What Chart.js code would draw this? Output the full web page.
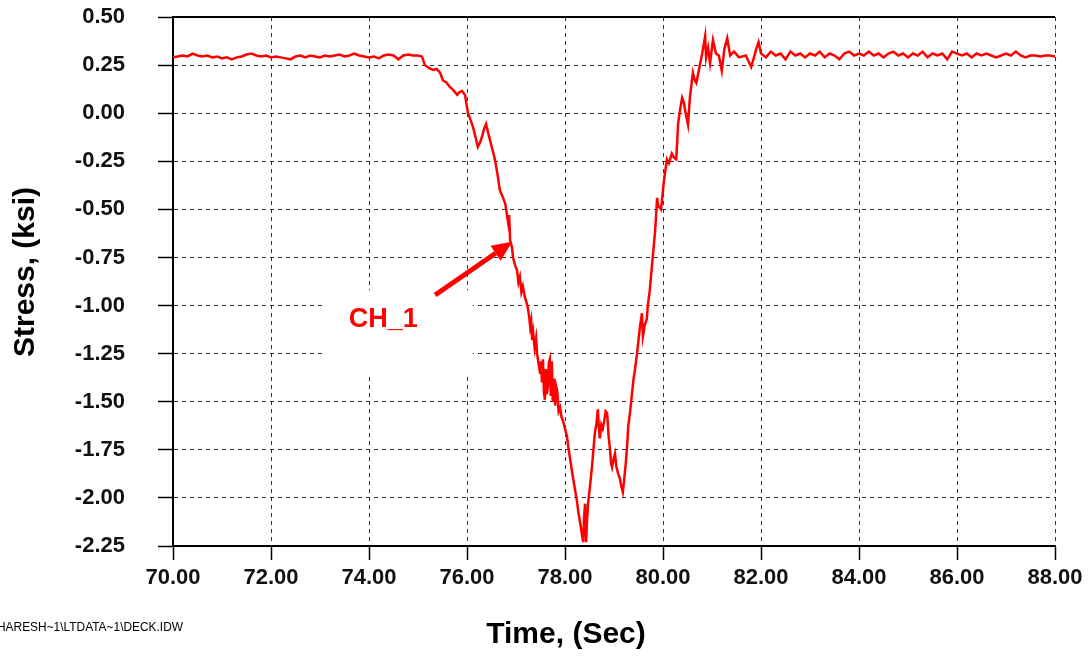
<!DOCTYPE html>
<html>
<head>
<meta charset="utf-8">
<script src="https://cdn.jsdelivr.net/npm/chart.js@4.4.0/dist/chart.umd.min.js"></script>
<style>
html, body { margin:0; padding:0; background:#fff; }
canvas { display:block; }
</style>
</head>
<body>
<canvas id="stressChart" width="1090" height="657"></canvas>
<script>
var seriesLabel = 'CH_1';
var xTitle = 'Time, (Sec)';
var yTitle = 'Stress, (ksi)';
var filePath = 'HARESH~1\\LTDATA~1\\DECK.IDW';

var timeMin = 70, timeMax = 88, timeStep = 2;
var stressMin = -2.25, stressMax = 0.5, stressStep = 0.25;

// [time (sec), stress (ksi)]
var preLoad = [
    [70.0,0.290],[70.1,0.295],[70.2,0.300],[70.3,0.295],[70.4,0.310],[70.5,0.300],[70.6,0.295],[70.7,0.300],
    [70.8,0.290],[70.9,0.295],[71.0,0.285],[71.1,0.290],[71.2,0.280],[71.3,0.290],[71.4,0.295],[71.5,0.305],
    [71.6,0.310],[71.7,0.300],[71.8,0.295],[71.9,0.300],[72.0,0.290],[72.1,0.295],[72.2,0.290],[72.3,0.285],
    [72.4,0.280],[72.5,0.295],[72.6,0.300],[72.7,0.290],[72.8,0.300],[72.9,0.295],[73.0,0.290],[73.1,0.300],
    [73.2,0.295],[73.3,0.300],[73.4,0.305],[73.5,0.295],[73.6,0.300],[73.7,0.310],[73.8,0.300],[73.9,0.295],
    [74.0,0.290],[74.1,0.295],[74.2,0.285],[74.3,0.300],[74.4,0.305],[74.5,0.300],[74.6,0.280],[74.7,0.300],
    [74.8,0.305],[74.9,0.300],[75.0,0.300],[75.08,0.295]
];

var loading = [
    [75.14,0.25],[75.22,0.235],[75.31,0.225],[75.38,0.23],[75.45,0.21],[75.51,0.17],[75.58,0.16],[75.65,0.136],
    [75.72,0.12],[75.80,0.095],[75.85,0.11],[75.90,0.115],[75.96,0.095],[76.02,0.0],[76.08,-0.04],[76.12,-0.07],
    [76.17,-0.12],[76.22,-0.175],[76.27,-0.15],[76.31,-0.12],[76.35,-0.08],[76.39,-0.056],[76.43,-0.10],[76.47,-0.14],
    [76.52,-0.19],[76.57,-0.24],[76.63,-0.33],[76.67,-0.40],[76.72,-0.43],[76.78,-0.47],[76.84,-0.57],[76.86,-0.53],
    [76.88,-0.66],[76.92,-0.70],[76.94,-0.75],[76.98,-0.79],[77.02,-0.815],[77.05,-0.88],[77.08,-0.85],[77.11,-0.93],
    [77.14,-0.90],[77.18,-0.955],[77.21,-0.98],[77.24,-1.01],[77.27,-1.06],[77.29,-1.11],[77.31,-1.08],[77.33,-1.18],
    [77.35,-1.14],[77.38,-1.22],[77.41,-1.17],[77.43,-1.25],[77.46,-1.30],[77.49,-1.35],[77.51,-1.29],[77.53,-1.40],
    [77.55,-1.28],[77.57,-1.45],[77.59,-1.49],[77.61,-1.33],[77.63,-1.46],[77.65,-1.42],[77.67,-1.30],[77.69,-1.28],
    [77.71,-1.47],[77.73,-1.29],[77.75,-1.50],[77.78,-1.38],[77.80,-1.52],[77.82,-1.42],[77.84,-1.44],[77.87,-1.55],
    [77.90,-1.53],[77.93,-1.58],[77.96,-1.60],[78.00,-1.64],[78.04,-1.68],[78.07,-1.74],[78.10,-1.79],[78.13,-1.84],
    [78.16,-1.89],[78.20,-1.95],[78.24,-2.01],[78.27,-2.07],[78.31,-2.13],[78.34,-2.18],[78.37,-2.23],[78.39,-2.10],
    [78.41,-2.03],[78.43,-2.23],[78.45,-2.12],[78.47,-2.03]
];

var unloading = [
    [78.51,-1.94],[78.55,-1.84],[78.58,-1.75],[78.61,-1.66],[78.64,-1.62],[78.67,-1.54],[78.69,-1.63],[78.71,-1.69],
    [78.74,-1.62],[78.77,-1.64],[78.80,-1.60],[78.83,-1.55],[78.86,-1.56],[78.89,-1.68],[78.92,-1.75],[78.94,-1.82],
    [78.96,-1.84],[78.99,-1.80],[79.02,-1.77],[79.05,-1.84],[79.08,-1.87],[79.12,-1.90],[79.15,-1.94],[79.18,-1.97],
    [79.21,-1.90],[79.24,-1.82],[79.27,-1.72],[79.29,-1.63],[79.33,-1.55],[79.37,-1.45],[79.40,-1.38],[79.43,-1.33],
    [79.47,-1.25],[79.50,-1.18],[79.53,-1.11],[79.57,-1.04],[79.59,-1.16],[79.63,-1.10],[79.67,-1.07],[79.69,-1.00],
    [79.73,-0.92],[79.79,-0.75],[79.84,-0.61],[79.88,-0.44],[79.90,-0.48],[79.96,-0.50],[80.02,-0.35],[80.08,-0.24],
    [80.12,-0.26],[80.18,-0.21],[80.22,-0.23],[80.27,-0.24],[80.31,-0.05],[80.35,0.02],[80.39,0.08],[80.43,0.05],
    [80.45,0.016],[80.51,-0.06],[80.55,0.085],[80.61,0.21],[80.65,0.17],[80.68,0.157],[80.76,0.26],[80.80,0.31],
    [80.86,0.40],[80.88,0.29],[80.92,0.34],[80.96,0.26],[81.02,0.38],[81.08,0.31],[81.14,0.30],[81.20,0.22],
    [81.25,0.33],[81.31,0.39],[81.37,0.30],[81.45,0.32],[81.55,0.29],[81.69,0.30],[81.80,0.24],[81.90,0.33],
    [81.95,0.37]
];

var postLoad = [
    [82.0,0.31],[82.1,0.29],[82.2,0.32],[82.3,0.30],[82.4,0.31],[82.5,0.28],[82.6,0.32],[82.7,0.30],
    [82.8,0.31],[82.9,0.29],[83.0,0.31],[83.1,0.30],[83.2,0.32],[83.3,0.29],[83.4,0.31],[83.5,0.30],
    [83.6,0.28],[83.7,0.31],[83.8,0.32],[83.9,0.30],[84.0,0.31],[84.1,0.30],[84.2,0.32],[84.3,0.30],
    [84.4,0.31],[84.5,0.29],[84.6,0.31],[84.7,0.32],[84.8,0.30],[84.9,0.31],[85.0,0.29],[85.1,0.31],
    [85.2,0.30],[85.3,0.32],[85.4,0.29],[85.5,0.31],[85.6,0.30],[85.7,0.31],[85.8,0.28],[85.9,0.32],
    [86.0,0.31],[86.1,0.30],[86.2,0.31],[86.3,0.29],[86.4,0.31],[86.5,0.30],[86.6,0.31],[86.7,0.30],
    [86.8,0.29],[86.9,0.30],[87.0,0.31],[87.1,0.30],[87.2,0.32],[87.3,0.30],[87.4,0.29],[87.5,0.30],
    [87.6,0.30],[87.7,0.295],[87.8,0.30],[87.9,0.30],[88.0,0.295]
];

// callout for the channel name, in data units
var callout = {
    box: [73.10, -0.92, 76.12, -1.37],
    text: [74.29, -1.075],
    arrowFrom: [75.35, -0.945],
    arrowTo: [76.92, -0.669]
};

var FONT = '"Liberation Sans", Arial, Helvetica, sans-serif';

var trace = preLoad.concat(loading, unloading, postLoad).map(function(p) {
    return {x: p[0], y: p[1]};
});

var extrasPlugin = {
    id: 'extras',
    beforeDatasetsDraw: function(chart) {
        var ctx = chart.ctx, a = chart.chartArea, sx = chart.scales.x, sy = chart.scales.y;
        ctx.save();
        // white patch behind the label
        var x1 = sx.getPixelForValue(callout.box[0]), y1 = sy.getPixelForValue(callout.box[1]);
        var x2 = sx.getPixelForValue(callout.box[2]), y2 = sy.getPixelForValue(callout.box[3]);
        ctx.fillStyle = '#fff';
        ctx.fillRect(x1, y1, x2 - x1, y2 - y1);
        // solid frame on top
        ctx.strokeStyle = '#000';
        ctx.lineWidth = 2;
        ctx.beginPath();
        ctx.moveTo(a.left, a.top);
        ctx.lineTo(a.right, a.top);
        ctx.stroke();
        ctx.restore();
    },
    afterDatasetsDraw: function(chart) {
        var ctx = chart.ctx, sx = chart.scales.x, sy = chart.scales.y;
        ctx.save();
        ctx.fillStyle = '#ff0000';
        ctx.strokeStyle = '#ff0000';
        ctx.font = 'bold 27px ' + FONT;
        ctx.textAlign = 'center';
        ctx.textBaseline = 'middle';
        ctx.fillText(seriesLabel, sx.getPixelForValue(callout.text[0]), sy.getPixelForValue(callout.text[1]));

        var ax = sx.getPixelForValue(callout.arrowFrom[0]), ay = sy.getPixelForValue(callout.arrowFrom[1]);
        var bx = sx.getPixelForValue(callout.arrowTo[0]), by = sy.getPixelForValue(callout.arrowTo[1]);
        var ang = Math.atan2(by - ay, bx - ax);
        var headLen = 20, headW = 9;
        var hx = bx - headLen * Math.cos(ang), hy = by - headLen * Math.sin(ang);
        ctx.lineWidth = 5;
        ctx.beginPath();
        ctx.moveTo(ax, ay);
        ctx.lineTo(hx, hy);
        ctx.stroke();
        ctx.beginPath();
        ctx.moveTo(bx, by);
        ctx.lineTo(hx + headW * Math.sin(ang), hy - headW * Math.cos(ang));
        ctx.lineTo(hx - headW * Math.sin(ang), hy + headW * Math.cos(ang));
        ctx.closePath();
        ctx.fill();
        ctx.restore();
    },
    afterDraw: function(chart) {
        var ctx = chart.ctx;
        ctx.save();
        ctx.fillStyle = '#000';
        ctx.textAlign = 'center';
        ctx.textBaseline = 'middle';
        ctx.font = 'bold 30px ' + FONT;
        ctx.fillText(xTitle, 566, 635);

        ctx.translate(26, 272);
        ctx.rotate(-Math.PI / 2);
        ctx.fillText(yTitle, 0, 0);
        ctx.restore();

        ctx.save();
        ctx.fillStyle = '#000';
        ctx.font = '12px ' + FONT;
        ctx.textBaseline = 'middle';
        ctx.textAlign = 'left';
        var w = ctx.measureText(filePath).width;
        ctx.translate(-3, 628);
        ctx.scale(186 / w, 1);
        ctx.fillText(filePath, 0, 0);
        ctx.restore();
    }
};

var stressChart = new Chart(document.getElementById('stressChart'), {
    type: 'line',
    data: {
        datasets: [{
            label: seriesLabel,
            data: trace,
            borderColor: '#ff0000',
            borderWidth: 2.5,
            pointRadius: 0,
            tension: 0,
            fill: false
        }]
    },
    options: {
        responsive: false,
        animation: false,
        events: [],
        layout: {
            padding: {left: 0, top: 17, right: 35, bottom: 0}
        },
        plugins: {
            legend: {display: false},
            tooltip: {enabled: false}
        },
        scales: {
            x: {
                type: 'linear',
                min: timeMin,
                max: timeMax,
                afterFit: function(scale) {
                    scale.height = 111;
                    scale.paddingLeft = 0;
                    scale.paddingRight = 0;
                },
                ticks: {
                    stepSize: timeStep,
                    color: '#111',
                    padding: 5,
                    maxRotation: 0,
                    font: {family: FONT, size: 22, weight: 'bold'},
                    callback: function(v) { return Number(v).toFixed(2); }
                },
                grid: {
                    color: '#333',
                    lineWidth: 1,
                    tickLength: 14,
                    tickColor: '#000',
                    tickWidth: 1.5
                },
                border: {color: '#000', width: 2, dash: [4, 4]}
            },
            y: {
                type: 'linear',
                min: stressMin,
                max: stressMax,
                afterFit: function(scale) {
                    scale.width = 173;
                    scale.paddingTop = 0;
                    scale.paddingBottom = 0;
                },
                ticks: {
                    stepSize: stressStep,
                    color: '#111',
                    padding: 33,
                    font: {family: FONT, size: 22, weight: 'bold'},
                    callback: function(v) { return Number(v).toFixed(2); }
                },
                grid: {
                    color: '#333',
                    lineWidth: 1,
                    tickLength: 15,
                    tickColor: '#000',
                    tickWidth: 1.5
                },
                border: {color: '#000', width: 2, dash: [4, 4]}
            }
        }
    },
    plugins: [extrasPlugin]
});
</script>
</body>
</html>
